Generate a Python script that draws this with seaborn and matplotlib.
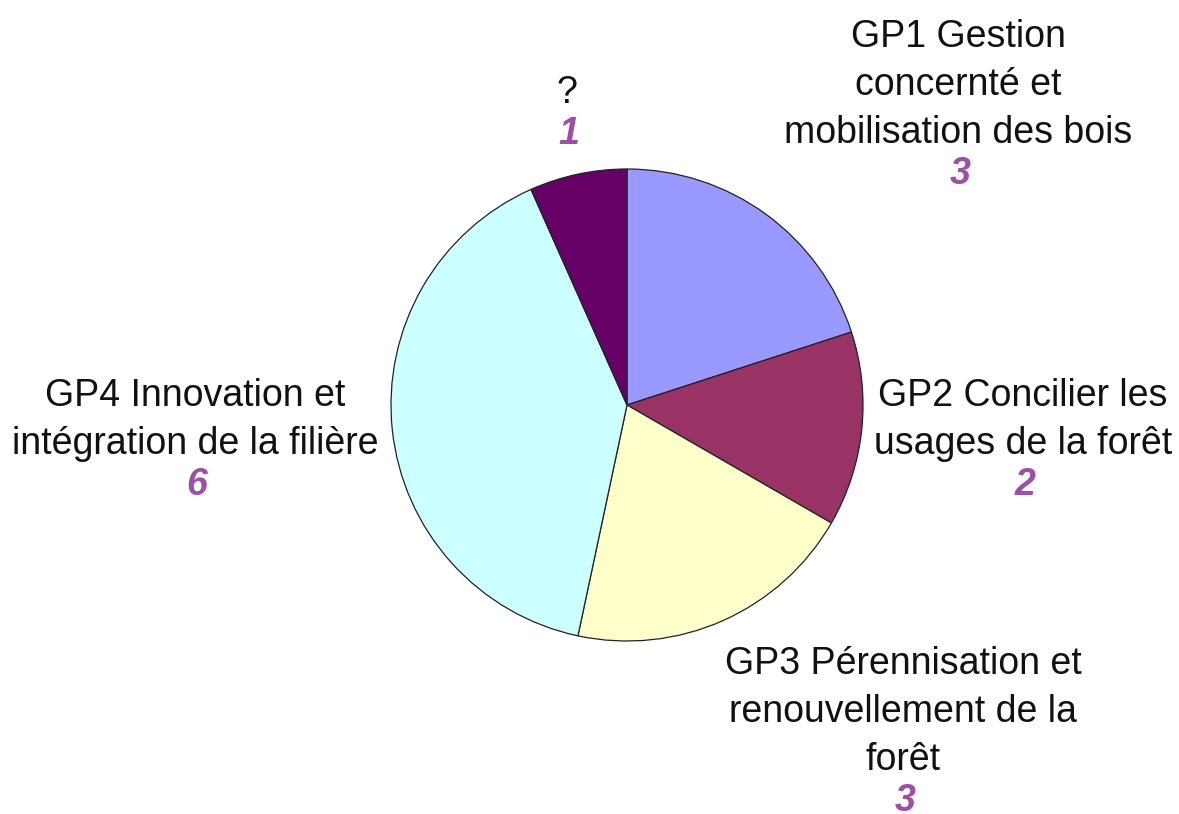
import seaborn as sns
import matplotlib.pyplot as plt

# data
categories = ["GP1 Gestion\nconcernté et\nmobilisation des bois",
              "GP2 Concilier les\nusages de la forêt",
              "GP3 Pérennisation et\nrenouvellement de la\nforêt",
              "GP4 Innovation et\nintégration de la filière",
              "?"]
counts = [3, 2, 3, 6, 1]
colors = ["#9999FF", "#993366", "#FFFFCC", "#CCFFFF", "#660066"]

# label anchor points (pixel coords, centre of first text line)
label_pos = [(958, 37), (1023, 396), (903, 664), (195, 396), (567, 93)]

sns.set_style("white")
plt.rcParams["font.family"] = ["Liberation Sans", "DejaVu Sans"]

W, H = 1179, 814
fig = plt.figure(figsize=(W / 100, H / 100), dpi=100)
ax = fig.add_axes([0, 0, 1, 1])

ax.pie(counts, colors=colors, startangle=-90, counterclock=True,
       center=(627, 405), radius=236, frame=True,
       wedgeprops=dict(edgecolor="#222222", linewidth=0.9))
ax.set_xlim(0, W)
ax.set_ylim(H, 0)
ax.set_aspect("equal")
ax.axis("off")

for cat, n, (x, y) in zip(categories, counts, label_pos):
    lines = cat.split("\n")
    for i, line in enumerate(lines):
        ax.text(x, y + i * 48, line, ha="center", va="center",
                fontsize=27, color="#111111")
    ax.text(x + 2, y + (len(lines) - 1) * 48 + 41, str(n), ha="center",
            va="center", fontsize=27, fontweight="bold", fontstyle="italic",
            color="#9B4FA5")

fig.savefig("out.png", dpi=100)
